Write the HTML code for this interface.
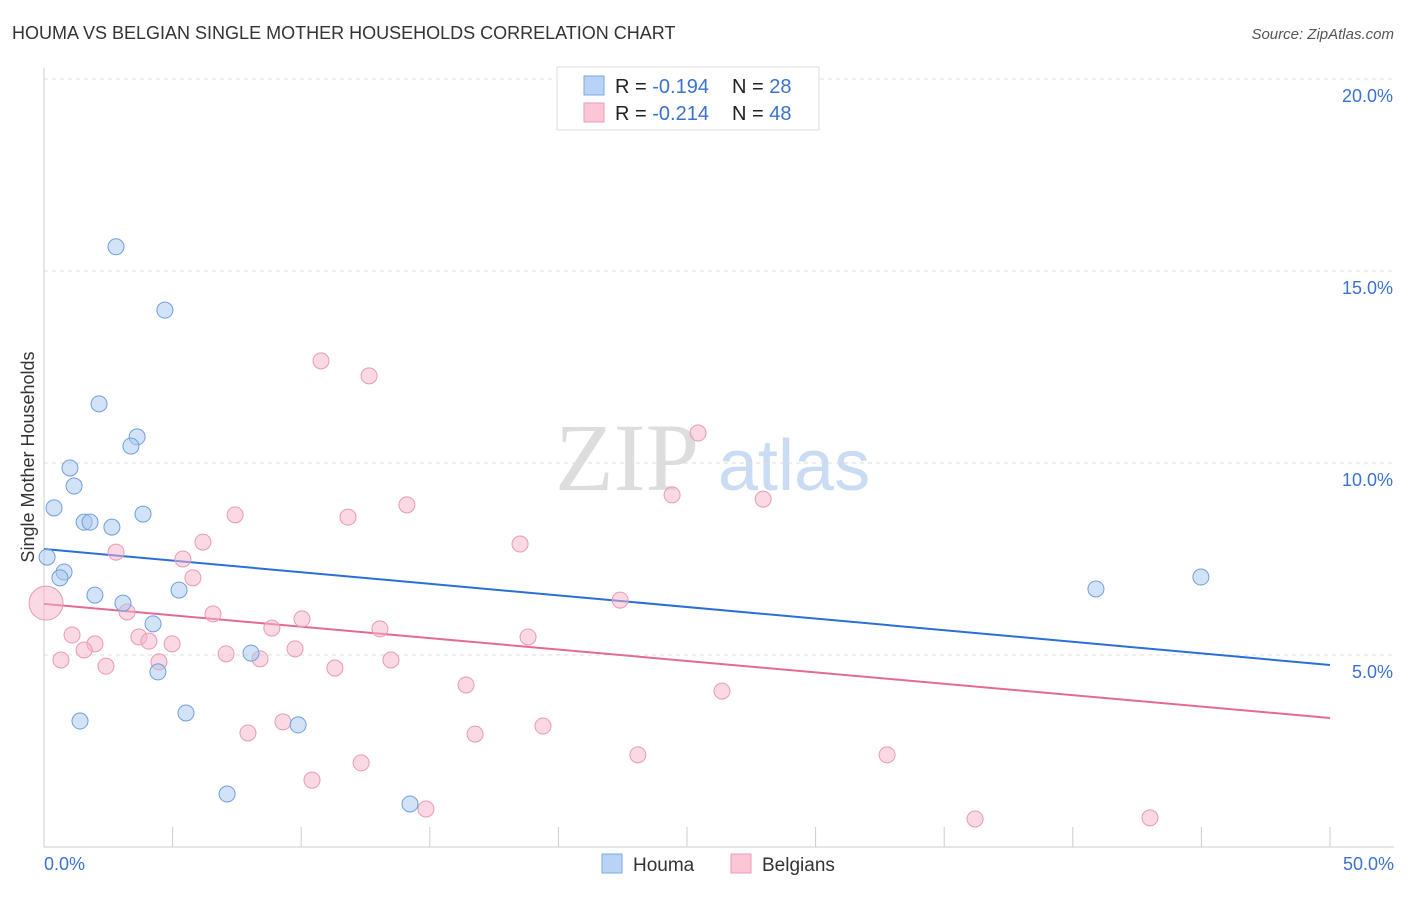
<!DOCTYPE html>
<html><head><meta charset="utf-8"><style>
body{margin:0;background:#fff;font-family:"Liberation Sans",sans-serif;}
</style></head><body>
<svg id="chart" width="1406" height="892" xmlns="http://www.w3.org/2000/svg" font-family="Liberation Sans, sans-serif">
<text x="12" y="39" font-size="18" fill="#333">HOUMA VS BELGIAN SINGLE MOTHER HOUSEHOLDS CORRELATION CHART</text>
<text x="1394" y="39" font-size="15" fill="#555" font-style="italic" text-anchor="end">Source: ZipAtlas.com</text>
<g>
<text x="555" y="490" font-size="96" fill="#ddd" font-family="Liberation Serif, serif">ZIP</text>
<text x="718" y="490" font-size="72" fill="#c9dcf3">atlas</text>
</g>
<g id="grid"></g>
<g id="axes"></g>
<g id="trend"></g>
<g id="points"></g>
<g>
<rect x="557" y="67" width="262" height="63" fill="#fff" stroke="#ddd"/>
<rect x="584" y="76" width="20" height="19" fill="#b8d3f5" stroke="#7aa8e6"/>
<rect x="584" y="103" width="20" height="19" fill="#fcc6d6" stroke="#eb9ab4"/>
<text x="615" y="93" font-size="20" fill="#222">R = <tspan fill="#3a72d0">-0.194</tspan><tspan x="732">N = </tspan><tspan fill="#3a72d0">28</tspan></text>
<text x="615" y="120" font-size="20" fill="#222">R = <tspan fill="#3a72d0">-0.214</tspan><tspan x="732">N = </tspan><tspan fill="#3a72d0">48</tspan></text>
</g>
<g>
<rect x="602" y="854" width="20" height="19" fill="#b8d3f5" stroke="#7aa8e6"/>
<text x="633" y="871" font-size="19" fill="#333">Houma</text>
<rect x="731" y="854" width="20" height="19" fill="#fcc6d6" stroke="#eb9ab4"/>
<text x="762" y="871" font-size="19" fill="#333">Belgians</text>
</g>
<text transform="translate(34,457) rotate(-90)" font-size="18" fill="#333" text-anchor="middle">Single Mother Households</text>
</svg>
<script>
const yTicks=[5,10,15,20];
const yTickLabels=["5.0%","10.0%","15.0%","20.0%"];
const xTicks=[0,5,10,15,20,25,30,35,40,45,50];
const houmaX=[2.80,4.70,2.14,3.62,3.38,1.01,1.17,0.39,1.56,1.79,2.64,3.85,0.12,0.78,0.62,1.98,3.07,5.25,4.24,4.43,8.05,1.40,5.52,9.88,7.12,14.23,40.90,44.98];
const houmaY=[15.63,13.98,11.54,10.68,10.44,9.87,9.40,8.83,8.46,8.46,8.33,8.67,7.55,7.16,7.01,6.56,6.35,6.69,5.81,4.56,5.05,3.28,3.49,3.18,1.38,1.12,6.72,7.03];
const belgX=[0.08,10.77,12.64,25.43,24.42,27.96,14.11,7.43,11.82,18.51,6.18,2.80,5.40,5.79,3.23,6.57,22.40,10.03,8.86,13.06,1.09,3.69,1.98,4.08,4.98,1.56,9.76,7.08,0.66,2.41,4.47,8.40,13.49,11.31,18.82,16.41,26.36,9.29,7.93,16.76,19.40,23.09,32.78,12.33,10.42,14.85,36.20,43.00];
const belgY=[6.35,12.66,12.27,10.78,9.17,9.06,8.91,8.65,8.59,7.89,7.94,7.68,7.50,7.01,6.12,6.07,6.43,5.94,5.70,5.68,5.52,5.47,5.29,5.36,5.29,5.13,5.16,5.03,4.87,4.71,4.82,4.90,4.87,4.66,5.47,4.22,4.06,3.26,2.97,2.94,3.15,2.40,2.40,2.19,1.74,0.99,0.73,0.76];
const houmaTrend=[7.76,4.74];
const belgTrend=[6.33,3.36];
const NS="http://www.w3.org/2000/svg";
const xs=v=>44+v*25.72, ys=v=>847-v*38.4;
function mk(t,a,p){const e=document.createElementNS(NS,t);for(const k in a)e.setAttribute(k,a[k]);p.appendChild(e);return e;}
const grid=document.getElementById('grid'),axes=document.getElementById('axes');
yTicks.forEach((t,i)=>{
 const l=mk('line',{x1:44,x2:1394,y1:ys(t),y2:ys(t),stroke:'#ddd','stroke-dasharray':'4,4'},grid);
 
 
 const tx=mk('text',{x:1393,y:ys(t)+23,'font-size':18,fill:'#3a72d0','text-anchor':'end'},axes);
 tx.textContent=yTickLabels[i];
 
 
});
const tl=mk('line',{x1:44,x2:1394,y1:79,y2:79,stroke:'#ddd','stroke-dasharray':'4,4'},grid);
mk('line',{x1:44,x2:44,y1:68,y2:847,stroke:'#ccc'},axes);
mk('line',{x1:44,x2:1394,y1:847,y2:847,stroke:'#ccc'},axes);
xTicks.forEach(t=>{const l=mk('line',{x1:xs(t),x2:xs(t),y1:827,y2:847,stroke:'#ccc'},axes);
 
 });
const x0=mk('text',{x:44,y:870,'font-size':18,fill:'#3a72d0'},axes);x0.textContent='0.0%';


const x1=mk('text',{x:1394,y:870,'font-size':18,fill:'#3a72d0','text-anchor':'end'},axes);x1.textContent='50.0%';


const pts=document.getElementById('points');
belgX.forEach((x,i)=>{const c=mk('circle',{cx:xs(x),cy:ys(belgY[i]),r:i==0?17:8,fill:'rgba(246,180,202,0.5)',stroke:'#e99ab3','stroke-width':1},pts);
 
 });
houmaX.forEach((x,i)=>{const c=mk('circle',{cx:xs(x),cy:ys(houmaY[i]),r:8,fill:'rgba(168,199,240,0.5)',stroke:'#6e9fdf','stroke-width':1},pts);
 
 });
const tr=document.getElementById('trend');
const t1=mk('line',{x1:xs(0),x2:xs(50),y1:ys(houmaTrend[0]),y2:ys(houmaTrend[1]),stroke:'#2a6fd6','stroke-width':2},tr);


const t2=mk('line',{x1:xs(0),x2:xs(50),y1:ys(belgTrend[0]),y2:ys(belgTrend[1]),stroke:'#e46a95','stroke-width':2},tr);


</script>
</body></html>
